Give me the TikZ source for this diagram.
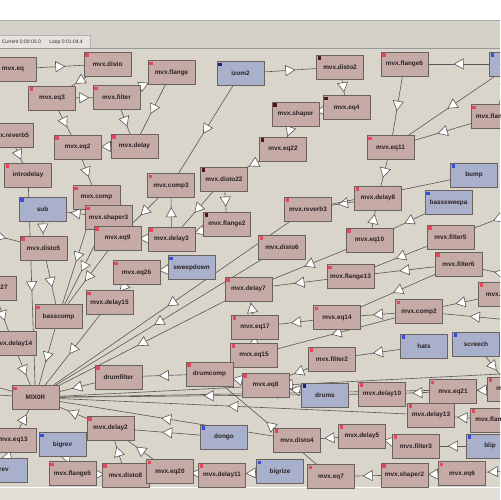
\documentclass[tikz,border=0pt]{standalone}
\usepackage{fontspec}
\setmainfont{Liberation Sans}
\usetikzlibrary{backgrounds,decorations.markings}
\definecolor{canvas}{HTML}{D9D5CB}
\definecolor{panel}{HTML}{D5D1C9}
\definecolor{fxfill}{HTML}{C5AAA6}
\definecolor{srcfill}{HTML}{A9B0CB}
\definecolor{boxline}{HTML}{6A625E}
\definecolor{wire}{HTML}{5C5854}
\definecolor{ledred}{HTML}{E4475A}
\definecolor{leddark}{HTML}{551418}
\definecolor{ledblue}{HTML}{3B4CDA}
\definecolor{lednavy}{HTML}{1D256E}
\definecolor{ink}{HTML}{2A2323}

\begin{document}
\begin{tikzpicture}[x=0.02cm,y=-0.02cm,font=\fontsize{3.65}{4}\selectfont\bfseries,
	box/.style={draw=boxline,line width=0.45pt,inner sep=0pt,minimum width=0.94cm,minimum height=0.48cm,text=ink},
	fx/.style={box,fill=fxfill,path picture={\fill[ledred] ([shift={(1.2,1.2)}]path picture bounding box.north west) rectangle ++(3.6,3.6);}},
	fxd/.style={box,fill=fxfill,path picture={\fill[leddark] ([shift={(1.2,1.2)}]path picture bounding box.north west) rectangle ++(3.6,3.6);}},
	src/.style={box,fill=srcfill,path picture={\fill[ledblue] ([shift={(1.2,1.2)}]path picture bounding box.north west) rectangle ++(3.6,3.6);}},
	srcd/.style={box,fill=srcfill,path picture={\fill[lednavy] ([shift={(1.2,1.2)}]path picture bounding box.north west) rectangle ++(3.6,3.6);}},
	hdtext/.style={anchor=west,inner sep=0pt,text=black!80,font=\fontsize{2.85}{3}\selectfont\mdseries},
	link/.style={draw=wire,line width=0.35pt,postaction={decorate},decoration={markings,mark=at position 0.5 with {\draw[fill=white,draw=wire,line width=0.35pt] (2.6pt,0pt) -- (-2.6pt,2.9pt) -- (-2.6pt,-2.9pt) -- cycle;}}}]
	\useasboundingbox (0,0) rectangle (500,500);
	\clip (0,0) rectangle (500,500);
	\node[hdtext] (clock) at (1.5,42) {Current 0:00:00.0};
	\node[hdtext] (loop) at (49,42) {Loop 0:01:04.4};

	\node[fx] (eq) at (13,69) {mvx.eq};
	\node[fx] (disto) at (107.5,64) {mvx.disto};
	\node[fx] (flange) at (171.5,72.5) {mvx.flange};
	\node[srcd] (izom2) at (240.5,73.5) {izom2};
	\node[fxd] (disto2) at (340,67) {mvx.disto2};
	\node[fx] (flange6) at (404.5,64) {mvx.flange6};
	\node[src] (srcR) at (513,64) {};
	\node[fxd] (eq4) at (346.5,107.5) {mvx.eq4};
	\node[fxd] (shaper) at (295.5,114) {mvx.shaper};
	\node[fx] (flange7) at (494.5,116.5) {mvx.flange7};
	\node[fx] (eq3) at (52,98) {mvx.eq3};
	\node[fx] (filter) at (116.5,97.5) {mvx.filter};
	\node[fx] (reverb5) at (10,135) {mvx.reverb5};
	\node[fx] (eq2) at (77.5,147) {mvx.eq2};
	\node[fx] (delay) at (134.5,146) {mvx.delay};
	\node[fx] (introdelay) at (28,175) {introdelay};
	\node[fxd] (eq22) at (283,149) {mvx.eq22};
	\node[fx] (eq11) at (390.5,147.5) {mvx.eq11};
	\node[fx] (comp3) at (171,185.5) {mvx.comp3};
	\node[fxd] (disto22) at (224,179) {mvx.disto22};
	\node[fx] (comp) at (96.5,197.5) {mvx.comp};
	\node[src] (sub) at (42.5,209) {sub};
	\node[fx] (shaper3) at (108.5,217.5) {mvx.shaper3};
	\node[fxd] (flange2) at (227,224) {mvx.flange2};
	\node[fx] (eq9) at (117.5,238) {mvx.eq9};
	\node[fx] (delay3) at (171.5,239) {mvx.delay3};
	\node[fx] (disto5) at (43.5,248) {mvx.disto5};
	\node[src] (bump) at (474,175) {bump};
	\node[fx] (delay8) at (378,198) {mvx.delay8};
	\node[src] (basssweepa) at (448.5,202.5) {basssweepa};
	\node[fx] (reverb3) at (308,209) {mvx.reverb3};
	\node[fx] (disto6) at (282,247) {mvx.disto6};
	\node[fx] (eq10) at (369.5,240) {mvx.eq10};
	\node[fx] (filter5) at (450.5,237) {mvx.filter5};
	\node[fx] (eq27) at (-7,288) {mvx.eq27};
	\node[src] (sweepdown) at (191.5,267.5) {sweepdown};
	\node[fx] (eq26) at (136.5,272.5) {mvx.eq26};
	\node[fx] (delay15) at (109.5,302.5) {mvx.delay15};
	\node[fx] (basscomp) at (58.5,316.5) {basscomp};
	\node[fx] (delay14) at (13,343.5) {mvx.delay14};
	\node[fx] (delay7) at (248.5,289) {mvx.delay7};
	\node[fx] (flange13) at (350.5,276.5) {mvx.flange13};
	\node[fx] (filter6) at (458.5,264) {mvx.filter6};
	\node[fx] (filter4) at (502,294) {mvx.filter4};
	\node[fx] (eq17) at (255,327) {mvx.eq17};
	\node[fx] (eq14) at (337,317.5) {mvx.eq14};
	\node[fx] (comp2) at (419,311.5) {mvx.comp2};
	\node[fx] (eq15) at (254,355) {mvx.eq15};
	\node[fx] (filter2) at (332,359) {mvx.filter2};
	\node[src] (hats) at (424,346) {hats};
	\node[src] (screech) at (476,344) {screech};
	\node[fx] (eq19) at (511,389) {mvx.eq19};
	\node[fx] (drumfilter) at (118.5,377) {drumfilter};
	\node[fx] (drumcomp) at (209.5,374) {drumcomp};
	\node[fx] (eq8) at (265.5,385) {mvx.eq8};
	\node[fx] (mixer) at (35.5,397.5) {MIX0R};
	\node[srcd] (drums) at (325,395) {drums};
	\node[fx] (delay10) at (382,394) {mvx.delay10};
	\node[fx] (eq21) at (453,391.5) {mvx.eq21};
	\node[fx] (delay13) at (431,415) {mvx.delay13};
	\node[fx] (flange3) at (494,420) {mvx.flange3};
	\node[fx] (eq13) at (13,440) {mvx.eq13};
	\node[src] (bigrev) at (62.5,444.5) {bigrev};
	\node[fx] (delay2) at (110.5,428) {mvx.delay2};
	\node[src] (dongo) at (224,437) {dongo};
	\node[src] (rev) at (4,470) {rev};
	\node[src] (bigrize) at (280,471.5) {bigrize};
	\node[fx] (disto4) at (297,440) {mvx.disto4};
	\node[fx] (delay5) at (362,436) {mvx.delay5};
	\node[fx] (filter3) at (416,446) {mvx.filter3};
	\node[src] (blip) at (490,446) {blip};
	\node[fx] (eq7) at (331,476.5) {mvx.eq7};
	\node[fx] (shaper2) at (404.5,475) {mvx.shaper2};
	\node[fx] (eq6) at (462,473.5) {mvx.eq6};
	\node[fx] (flange5) at (72.5,473.5) {mvx.flange5};
	\node[fx] (disto8) at (125.5,475) {mvx.disto8};
	\node[fx] (eq20) at (170,471.5) {mvx.eq20};
	\node[fx] (delay11) at (222,475) {mvx.delay11};

	\coordinate (offL1) at (-41,226);
	\coordinate (offL2) at (-45,376);
	\coordinate (offL3) at (-45,392);
	\coordinate (offR1) at (531,322);
	\coordinate (offR2) at (524,470);
	\coordinate (offR3) at (545,201);
	\coordinate (offR4) at (540,282);
	\coordinate (offR5) at (540,372);

	\begin{scope}[on background layer]
		\clip (0,0) rectangle (500,500);
		\fill[white] (0,0) rectangle (500,20);
		\fill[panel] (0,20) rectangle (500,48);
		\draw[black!35,line width=0.4pt] (0,20) -- (500,20);
		\draw[black!30,fill=panel!60!white,line width=0.35pt] (-1,35) rectangle (90,48);
		\fill[canvas] (0,48) rectangle (500,487);
		\draw[black!40,line width=0.4pt] (0,48) -- (500,48);
		\fill[panel!70!white] (0,487) rectangle (500,500);
		\draw[white,line width=0.5pt] (0,487.5) -- (500,487.5);

		\draw[link] (eq.center) -- (disto.center);
		\draw[link] (disto.center) -- (eq3.center);
		\draw[link] (eq3.center) -- (filter.center);
		\draw[link] (filter.center) -- (flange.center);
		\draw[link] (flange.center) -- (delay.center);
		\draw[link] (filter.center) -- (delay.center);
		\draw[link] (eq3.center) -- (eq2.center);
		\draw[link] (delay.center) -- (eq2.center);
		\draw[link] (eq2.center) -- (comp.center);
		\draw[link] (reverb5.center) -- (introdelay.center);
		\draw[link] (introdelay.center) -- (mixer.center);
		\draw[link] (sub.center) -- (disto5.center);
		\draw[link] (shaper3.center) -- (sub.center);
		\draw[link] (comp3.center) -- (eq9.center);
		\draw[link] (delay3.center) -- (comp3.center);
		\draw[link] (izom2.center) -- (comp3.center);
		\draw[link] (disto22.center) -- (flange2.center);
		\draw[link] (flange2.center) -- (delay3.center);
		\draw[link] (disto22.center) -- (delay3.center);
		\draw[link] (delay3.center) -- (eq9.center);
		\draw[link] (izom2.center) -- (disto2.center);
		\draw[link] (disto2.center) -- (eq4.center);
		\draw[link] (eq4.center) -- (shaper.center);
		\draw[link] (shaper.center) -- (eq22.center);
		\draw[link] (eq22.center) -- (disto22.center);
		\draw[link] (srcR.center) -- (flange6.center);
		\draw[link] (srcR.center) -- (eq11.center);
		\draw[link] (srcR.center) -- (flange7.center);
		\draw[link] (flange6.center) -- (eq11.center);
		\draw[link] (flange7.center) -- (eq11.center);
		\draw[link] (eq11.center) -- (delay8.center);
		\draw[link] (delay8.center) -- (reverb3.center);
		\draw[link] (bump.center) -- (reverb3.center);
		\draw[link] (basssweepa.center) -- (eq10.center);
		\draw[link] (eq10.center) -- (delay8.center);
		\draw[link] (reverb3.center) -- (mixer.center);
		\draw[link] (disto6.center) -- (mixer.center);
		\draw[link] (delay7.center) -- (mixer.center);
		\draw[link] (flange13.center) -- (delay7.center);
		\draw[link] (eq10.center) -- (delay7.center);
		\draw[link] (filter5.center) -- (flange13.center);
		\draw[link] (filter6.center) -- (flange13.center);
		\draw[link] (filter6.center) -- (eq14.center);
		\draw[link] (comp2.center) -- (eq14.center);
		\draw[link] (eq14.center) -- (eq17.center);
		\draw[link] (comp2.center) -- (eq15.center);
		\draw[link] (eq17.center) -- (delay7.center);
		\draw[link] (eq15.center) -- (eq17.center);
		\draw[link] (hats.center) -- (filter2.center);
		\draw[link] (filter2.center) -- (eq8.center);
		\draw[link] (eq8.center) -- (drumcomp.center);
		\draw[link] (drums.center) -- (eq8.center);
		\draw[link] (drumcomp.center) -- (drumfilter.center);
		\draw[link] (drumfilter.center) -- (mixer.center);
		\draw[link] (filter4.center) -- (comp2.center);
		\draw[link] (offR1) -- (comp2.center);
		\draw[link] (offR3) -- (filter5.center);
		\draw[link] (offR4) -- (filter6.center);
		\draw[link] (screech.center) -- (eq19.center);
		\draw[link] (eq19.center) -- (mixer.center);
		\draw[link] (offR5) -- (mixer.center);
		\draw[link] (eq19.center) -- (eq21.center);
		\draw[link] (eq21.center) -- (delay10.center);
		\draw[link] (delay10.center) -- (mixer.center);
		\draw[link] (delay13.center) -- (mixer.center);
		\draw[link] (flange3.center) -- (delay13.center);
		\draw[link] (disto4.center) -- (mixer.center);
		\draw[link] (delay2.center) -- (mixer.center);
		\draw[link] (dongo.center) -- (delay2.center);
		\draw[link] (disto8.center) -- (delay2.center);
		\draw[link] (eq20.center) -- (delay2.center);
		\draw[link] (delay11.center) -- (eq20.center);
		\draw[link] (flange5.center) -- (disto8.center);
		\draw[link] (bigrev.center) -- (flange5.center);
		\draw[link] (rev.center) -- (eq13.center);
		\draw[link] (eq13.center) -- (mixer.center);
		\draw[link] (delay5.center) -- (disto4.center);
		\draw[link] (filter3.center) -- (delay5.center);
		\draw[link] (blip.center) -- (filter3.center);
		\draw[link] (eq7.center) -- (drumcomp.center);
		\draw[link] (shaper2.center) -- (eq7.center);
		\draw[link] (eq6.center) -- (shaper2.center);
		\draw[link] (offR2) -- (eq6.center);
		\draw[link] (bigrize.center) -- (delay11.center);
		\draw[link] (basscomp.center) -- (mixer.center);
		\draw[link] (delay15.center) -- (mixer.center);
		\draw[link] (disto5.center) -- (basscomp.center);
		\draw[link] (comp.center) -- (basscomp.center);
		\draw[link] (shaper3.center) -- (basscomp.center);
		\draw[link] (eq9.center) -- (basscomp.center);
		\draw[link] (sweepdown.center) -- (eq26.center);
		\draw[link] (eq26.center) -- (delay15.center);
		\draw[link] (eq27.center) -- (delay14.center);
		\draw[link] (delay14.center) -- (mixer.center);
		\draw[link] (offL1) -- (disto5.center);
		\draw[link] (offL2) -- (mixer.center);
		\draw[link] (offL3) -- (mixer.center);
	\end{scope}
\end{tikzpicture}
\end{document}
